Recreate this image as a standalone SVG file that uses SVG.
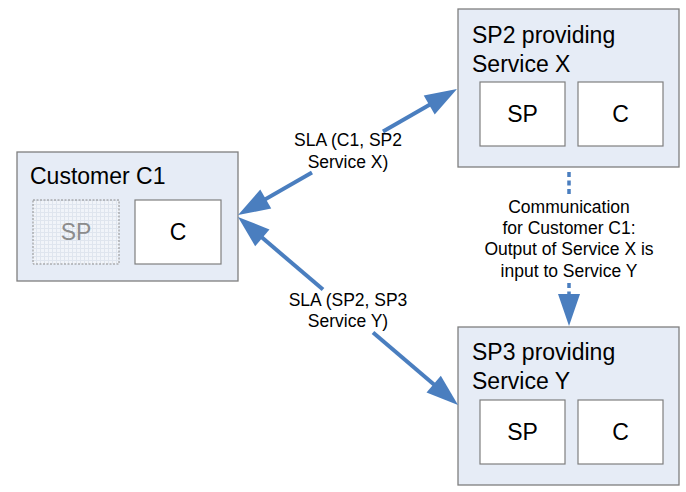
<svg xmlns="http://www.w3.org/2000/svg" width="686" height="492" viewBox="0 0 686 492">
<style>
.box{fill:#e6ecf6;stroke:#7f7f7f;stroke-width:1.3}
.inner{fill:#ffffff;stroke:#7f7f7f;stroke-width:1.2}
.ghost{fill:url(#grid);stroke:#8c8c8c;stroke-width:1;stroke-dasharray:2 1.5}
.title{font-family:"Liberation Sans",Arial,sans-serif;font-size:23px;fill:#000}
.in{font-family:"Liberation Sans",Arial,sans-serif;font-size:23px;fill:#000;text-anchor:middle}
.ing{font-family:"Liberation Sans",Arial,sans-serif;font-size:23px;fill:#8c8c8c;text-anchor:middle}
.lbl{font-family:"Liberation Sans",Arial,sans-serif;font-size:17.5px;fill:#000;text-anchor:middle}
.conn{fill:none;stroke:#4a7ebf;stroke-width:4}
.dot{fill:none;stroke:#4a7ebf;stroke-width:3.5;stroke-dasharray:5 3.5}
</style>
<defs>
<pattern id="grid" width="4" height="4" patternUnits="userSpaceOnUse">
<rect width="4" height="4" fill="#f1f4f9"/>
<path d="M0,0.5 H4 M0.5,0 V4" stroke="#dfe5ee" stroke-width="1" fill="none"/>
</pattern>
<marker id="ah" markerUnits="userSpaceOnUse" viewBox="-34 -12 36 24" refX="-10" refY="0" markerWidth="36" markerHeight="24" orient="auto" overflow="visible">
<path d="M0,0 L-32,-11 L-32,11 Z" fill="#4a7ebf"/>
</marker>
</defs>

<g id="customer">
<rect class="box" x="17" y="152" width="221" height="129"/>
<text class="title" x="30" y="184">Customer C1</text>
<rect class="ghost" x="33" y="200" width="86" height="64"/>
<text class="ing" x="76" y="240">SP</text>
<rect class="inner" x="135" y="200" width="86" height="64"/>
<text class="in" x="178" y="240">C</text>
</g>

<g id="sp2">
<rect class="box" x="458" y="9" width="221" height="158"/>
<text class="title" x="472" y="43">SP2 providing</text>
<text class="title" x="472" y="72">Service X</text>
<rect class="inner" x="480" y="82" width="85" height="64"/>
<text class="in" x="522.5" y="122">SP</text>
<rect class="inner" x="578" y="82" width="85" height="64"/>
<text class="in" x="620.5" y="122">C</text>
</g>

<g id="sp3">
<rect class="box" x="458" y="327" width="221" height="158"/>
<text class="title" x="472" y="360">SP3 providing</text>
<text class="title" x="472" y="389">Service Y</text>
<rect class="inner" x="480" y="400" width="85" height="64"/>
<text class="in" x="522.5" y="440">SP</text>
<rect class="inner" x="578" y="400" width="85" height="64"/>
<text class="in" x="620.5" y="440">C</text>
</g>

<g id="connectors">
<line class="conn" x1="312" y1="172.4" x2="246.7" y2="210" marker-end="url(#ah)"/>
<line class="conn" x1="383" y1="131.6" x2="448.3" y2="94" marker-end="url(#ah)"/>
<text class="lbl" x="348" y="146">SLA (C1, SP2</text>
<text class="lbl" x="348" y="168">Service X)</text>

<line class="conn" x1="323" y1="289.6" x2="245.6" y2="223.5" marker-end="url(#ah)"/>
<line class="conn" x1="373" y1="332.4" x2="450.4" y2="398.5" marker-end="url(#ah)"/>
<text class="lbl" x="348" y="306">SLA (SP2, SP3</text>
<text class="lbl" x="348" y="327">Service Y)</text>

<line class="dot" x1="569" y1="172" x2="569" y2="196"/>
<line class="dot" x1="569" y1="283" x2="569" y2="316" marker-end="url(#ah)"/>
<text class="lbl" x="569" y="213">Communication</text>
<text class="lbl" x="569" y="234">for Customer C1:</text>
<text class="lbl" x="569" y="255">Output of Service X is</text>
<text class="lbl" x="569" y="277">input to Service Y</text>
</g>
</svg>
